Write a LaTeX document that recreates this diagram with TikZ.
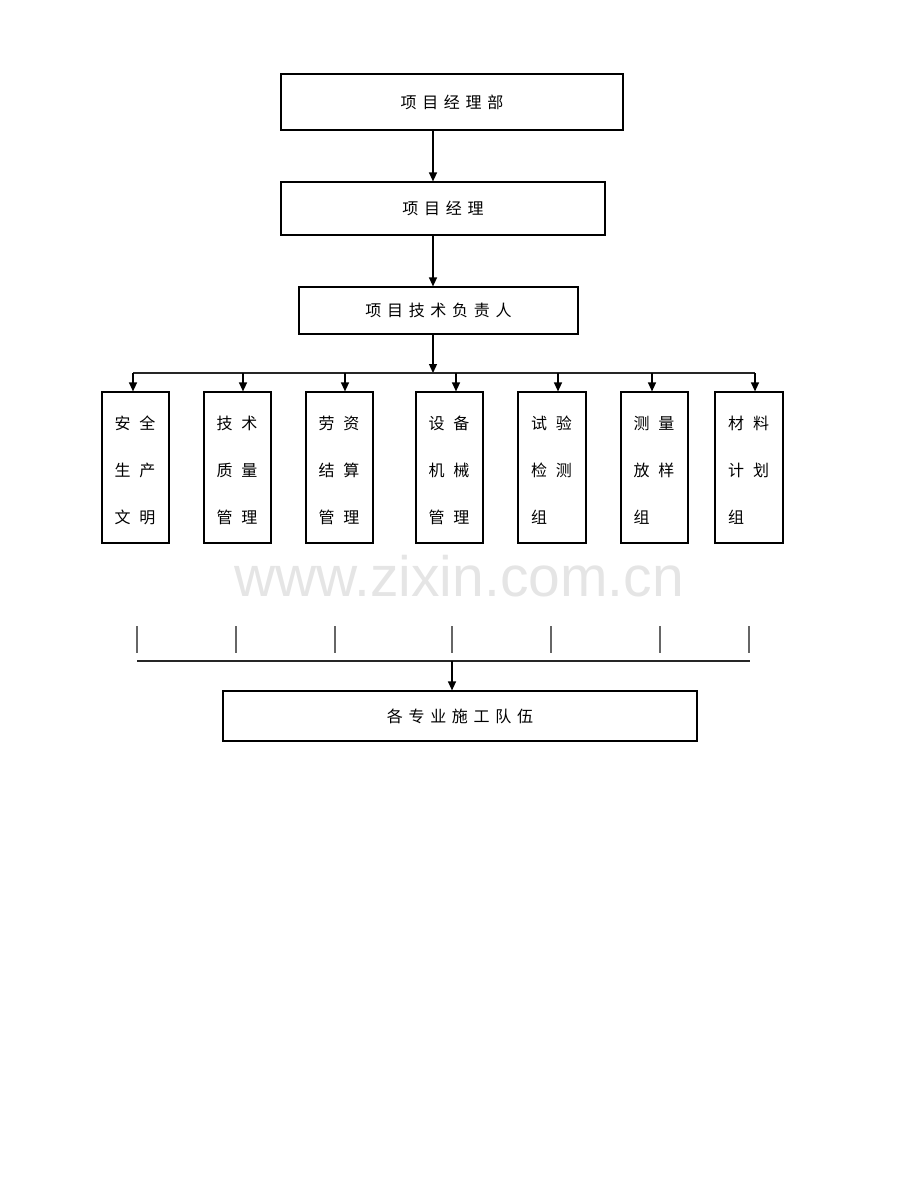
\documentclass[tikz,border=0pt]{standalone}
\usepackage{fontspec}
\newfontfamily\cjk{Noto Sans CJK SC}
\newfontfamily\wmfont{Liberation Sans}
\usetikzlibrary{arrows.meta}
\newcommand\gp{\hspace{5.7pt}}
\newcommand\gq{\hspace{9pt}}
\begin{document}
\begin{tikzpicture}[x=1pt,y=-1pt,
  box/.style={draw,line width=1.2pt,inner sep=0pt,font=\cjk\fontsize{16}{20}\selectfont},
  col/.style={draw,line width=1.2pt,minimum height=151pt,minimum width=67pt,text width=42pt,inner xsep=12.5pt,inner ysep=0pt,text height=19pt,align=left,font=\cjk\fontsize{16}{47}\selectfont},
  arr/.style={line width=1.3pt,-{Triangle[length=9pt,width=8pt]}},
  ln/.style={line width=1.3pt,black!85},
  tick/.style={line width=1.3pt,black!60}]
\useasboundingbox (0,0) rectangle (920,1191);
\node[text=black!10,font=\wmfont\fontsize{57}{60}\selectfont] (wm) at (459,576) {www.zixin.com.cn};
\node[box,minimum width=342pt,minimum height=56pt] (top) at (452,102) {项\gp 目\gp 经\gp 理\gp 部};
\node[box,minimum width=324pt,minimum height=53pt] (mgr) at (443,208.5) {项\gp 目\gp 经\gp 理};
\node[box,minimum width=279pt,minimum height=47pt] (tech) at (438.5,310.5) {项\gp 目\gp 技\gp 术\gp 负\gp 责\gp 人};
\coordinate (c) at (433,0);
\draw[arr] (top.south -| c) -- (mgr.north -| c);
\draw[arr] (mgr.south -| c) -- (tech.north -| c);
\coordinate (bus) at (433,373);
\draw[arr] (tech.south -| bus) -- (bus);
\coordinate (t1) at (133,373);
\coordinate (t2) at (243,373);
\coordinate (t3) at (345,373);
\coordinate (t4) at (456,373);
\coordinate (t5) at (558,373);
\coordinate (t6) at (652,373);
\coordinate (t7) at (755,373);
\draw[ln] (t1) -- (t7);
\node[col] (b1) at (135.5,467.5) {安\gq 全\\生\gq 产\\文\gq 明};
\node[col] (b2) at (237.5,467.5) {技\gq 术\\质\gq 量\\管\gq 理};
\node[col] (b3) at (339.5,467.5) {劳\gq 资\\结\gq 算\\管\gq 理};
\node[col] (b4) at (449.5,467.5) {设\gq 备\\机\gq 械\\管\gq 理};
\node[col,minimum width=68pt,inner xsep=13pt] (b5) at (552,467.5) {试\gq 验\\检\gq 测\\组};
\node[col] (b6) at (654.5,467.5) {测\gq 量\\放\gq 样\\组};
\node[col,minimum width=68pt,inner xsep=13pt] (b7) at (749,467.5) {材\gq 料\\计\gq 划\\组};
\foreach \i in {1,...,7} {\draw[arr] (t\i) -- (t\i |- b\i.north);}
\foreach \x in {137,236,335,452,551,660,749} {\draw[tick] (\x,626) -- (\x,653);}
\coordinate (h1) at (137,661);
\coordinate (h2) at (750,661);
\coordinate (hm) at (452,661);
\draw[ln] (h1) -- (h2);
\node[box,minimum width=474pt,minimum height=50pt] (team) at (460,716) {各\gp 专\gp 业\gp 施\gp 工\gp 队\gp 伍};
\draw[arr] (hm) -- (hm |- team.north);
\end{tikzpicture}
\end{document}
